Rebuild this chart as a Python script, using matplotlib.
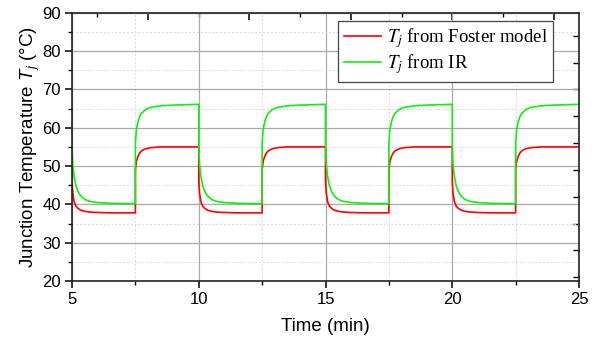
import numpy as np
import matplotlib.pyplot as plt
from matplotlib.font_manager import FontProperties
from matplotlib.ticker import MultipleLocator

# switching instants (min)
t_off = [5.0, 10.0, 15.0, 20.0]     # power off -> cooling
t_on = [7.5, 12.5, 17.5, 22.5]      # power on -> heating

# cooling phase (time after switch, value)
cool_dt = [0.0, 0.001, 0.03, 0.08, 0.15, 0.25, 0.35, 0.5, 0.7, 1.0, 1.5, 2.0, 2.499]
cool_ir = [66.0, 55.0, 50.5, 47.5, 45.0, 43.2, 42.2, 41.3, 40.8, 40.5, 40.3, 40.2, 40.2]
cool_foster = [55.0, 46.0, 43.0, 40.8, 39.6, 38.9, 38.5, 38.2, 38.0, 37.9, 37.8, 37.8, 37.8]

# heating phase
heat_dt = [0.0, 0.001, 0.04, 0.1, 0.17, 0.25, 0.4, 0.6, 1.0, 1.5, 2.0, 2.499]
heat_ir = [40.2, 56.0, 59.5, 61.5, 62.9, 63.8, 64.7, 65.3, 65.7, 65.9, 66.0, 66.1]
heat_foster = [37.8, 49.0, 51.2, 52.5, 53.4, 54.0, 54.5, 54.8, 55.0, 55.0, 55.0, 55.0]

# assemble the full traces
t, ir, foster = [], [], []
for i in range(len(t_off)):
    t += [t_off[i] + d for d in cool_dt]
    ir += cool_ir
    foster += cool_foster
    t += [t_on[i] + d for d in heat_dt]
    ir += heat_ir
    foster += heat_foster
t = np.array(t)
ir = np.array(ir)
foster = np.array(foster)

plt.rcParams['font.family'] = ['Liberation Sans', 'DejaVu Sans']
plt.rcParams['mathtext.fontset'] = 'custom'
plt.rcParams['mathtext.it'] = 'Liberation Sans:italic'
plt.rcParams['mathtext.rm'] = 'Liberation Sans'

fig = plt.figure(figsize=(6.0, 3.42), dpi=100)
ax = fig.add_axes([0.12, 0.178, 0.845, 0.785])

ax.plot(t, foster, color='#ff0000', lw=1.2, label=r'$T_j$ from Foster model')
ax.plot(t, ir, color='#11ee11', lw=1.2, label=r'$T_j$ from IR')

ax.set_xlim(5, 25)
ax.set_ylim(20, 90)
ax.xaxis.set_major_locator(MultipleLocator(5))
ax.xaxis.set_minor_locator(MultipleLocator(2.5))
ax.yaxis.set_major_locator(MultipleLocator(10))
ax.yaxis.set_minor_locator(MultipleLocator(5))

ax.grid(which='major', color='#a8a8a8', lw=0.9, ls='-')
ax.grid(which='minor', color='#d8d8d8', lw=0.7, ls=(0, (2, 2)))
ax.set_axisbelow(True)

ax.tick_params(which='major', direction='out', length=5, width=1.1, labelsize=12,
               colors='black', pad=3)
ax.tick_params(which='minor', direction='out', length=3, width=1.0)
for s in ax.spines.values():
    s.set_linewidth(1.2)
    s.set_color('#222222')

# top and right axes carry their own inward ticks
top = ax.twiny()
top.set_xlim(5, 25)
top.xaxis.set_major_locator(MultipleLocator(4))
top.xaxis.set_minor_locator(MultipleLocator(2))
top.tick_params(axis='x', which='major', direction='in', length=5, width=1.1, labeltop=False)
top.tick_params(axis='x', which='minor', direction='in', length=3, width=1.0)
right = ax.twinx()
right.set_ylim(20, 90)
right.yaxis.set_major_locator(MultipleLocator(7))
right.tick_params(axis='y', which='major', direction='in', length=4, width=1.0, labelright=False)
for a in (top, right):
    for s in a.spines.values():
        s.set_visible(False)

ax.set_xlabel('Time (min)', fontsize=13.5, labelpad=8)
ax.set_ylabel(r'Junction Temperature $T_j$ ($\degree$C)', fontsize=13.5, labelpad=0)

leg_font = FontProperties(family='Liberation Serif', size=13.5, math_fontfamily='stix')
leg = ax.legend(loc='upper right', bbox_to_anchor=(0.949, 0.970), borderaxespad=0,
                prop=leg_font, frameon=True, fancybox=False, edgecolor='#444444',
                framealpha=1, handlelength=2.0, handletextpad=0.3,
                borderpad=0.3, labelspacing=0.12)
leg.get_frame().set_linewidth(0.9)
ax.set_zorder(top.get_zorder() + 2)
ax.patch.set_visible(False)

fig.savefig('out.png', dpi=100)
